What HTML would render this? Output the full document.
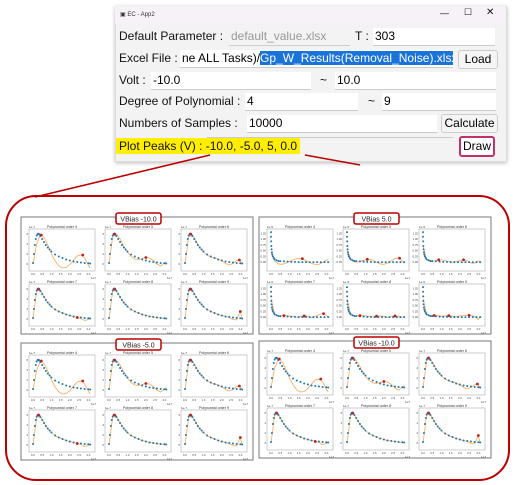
<!DOCTYPE html>
<html><head><meta charset="utf-8">
<style>
body{margin:0;width:515px;height:485px;background:#fff;position:relative;overflow:hidden;font-family:"Liberation Sans",sans-serif}
.a{position:absolute}
.lbl{position:absolute;font-size:12px;color:#111;white-space:nowrap}
.fld{position:absolute;background:#fff;border-bottom:1px solid #ccc;font-size:12px;white-space:nowrap;overflow:hidden;line-height:17px;padding-left:2px}
.btn{position:absolute;background:#f5f5f5;border:1px solid #ccc;border-radius:3px;font-size:12px;text-align:center;line-height:17px}
</style></head><body>
<div class="a" style="left:115px;top:6px;width:390px;height:154px;background:#f3f3f3;border:1px solid #ddd;box-shadow:0 1px 4px #bbb"></div>
<div class="a" style="left:115px;top:6px;width:390px;height:18px;background:#f7f2f7"></div>
<div class="lbl" style="left:120px;top:11px;font-size:6px;color:#333">&#9635; EC - App2</div>
<div class="lbl" style="left:440px;top:8px;font-size:9px">&#8212;</div>
<div class="lbl" style="left:464px;top:7px;font-size:9px">&#9744;</div>
<div class="lbl" style="left:486px;top:7px;font-size:10px">&#10005;</div>

<div class="lbl" style="left:119px;top:29px">Default Parameter :</div>
<div class="fld" style="left:229px;top:28px;width:119px;color:#999;background:#f3f3f3">default_value.xlsx</div>
<div class="lbl" style="left:355px;top:29px">T :</div>
<div class="fld" style="left:373px;top:28px;width:120px">303</div>

<div class="lbl" style="left:119px;top:51px">Excel File :</div>
<div class="fld" style="left:180px;top:50px;width:271px">ne ALL Tasks)/<span style="background:#1a73d9;color:#fff">Gp_W_Results(Removal_Noise).xlsx</span></div>
<div class="btn" style="left:458px;top:50px;width:38px">Load</div>

<div class="lbl" style="left:119px;top:73px">Volt :</div>
<div class="fld" style="left:151px;top:72px;width:158px">-10.0</div>
<div class="lbl" style="left:320px;top:73px">~</div>
<div class="fld" style="left:335px;top:72px;width:159px">10.0</div>

<div class="lbl" style="left:119px;top:94px">Degree of Polynomial :</div>
<div class="fld" style="left:245px;top:93px;width:111px">4</div>
<div class="lbl" style="left:368px;top:94px">~</div>
<div class="fld" style="left:382px;top:93px;width:112px">9</div>

<div class="lbl" style="left:119px;top:116px">Numbers of Samples :</div>
<div class="fld" style="left:247px;top:115px;width:188px">10000</div>
<div class="btn" style="left:441px;top:114px;width:55px">Calculate</div>

<div class="fld" style="left:207px;top:137px;width:244px"></div>
<div class="lbl" style="left:116px;top:138px;background:#ffee00;padding:0 3px 0 3px;line-height:16px">Plot Peaks (V) : -10.0, -5.0, 5, 0.0</div>
<div class="btn" style="left:459px;top:136px;width:32px;border:2px solid #c0306a;background:#fff">Draw</div>

<svg class="a" style="left:0;top:0" width="515" height="485">
<line x1="210" y1="155" x2="35" y2="197" stroke="#b00" stroke-width="1.5"/>
<line x1="305" y1="155" x2="360" y2="165" stroke="#b00" stroke-width="1.5"/>
<rect x="6" y="196" width="503" height="284" rx="30" fill="none" stroke="#b00" stroke-width="2"/>
<g id="plots"></g>
</svg>
<script>
const negX=[0,0.05,0.1,0.15,0.2,0.25,0.3,0.35,0.4,0.5,0.6,0.7,0.8,0.9,1.0,1.2,1.4,1.6,1.8,2.0,2.2,2.4,2.6,2.8,3.0,3.1];
const negY=[0.2,2,3.8,5,5.7,6,6.05,5.9,5.6,5,4.4,3.8,3.3,2.9,2.5,1.9,1.5,1.2,0.9,0.7,0.5,0.4,0.3,0.2,0.15,0.1];
const posX=[0,0,0.01,0.02,0.03,0.05,0.07,0.1,0.15,0.2,0.3,0.4,0.5,0.7,0.9,1.1,1.3,1.5,1.7,1.9,2.1,2.3,2.5,2.7,2.9,3.1];
const posY=[1.3,1.1,0.9,0.7,0.55,0.42,0.33,0.25,0.18,0.12,0.08,0.05,0.04,0.03,0.02,0.01,0.01,0,0,0,0,0,0,0,0,0];
const fitX=[0,0.2,0.4,0.6,0.8,1.0,1.2,1.4,1.6,1.8,2.0,2.2,2.4,2.6,2.8,3.0,3.1];
const negFits=[
[0,4,5.8,5.3,3.8,2.0,0.6,-0.4,-0.8,-0.7,-0.1,0.8,1.6,1.8,1.2,-0.2,-0.8],
[0,5.5,5.9,5.0,3.6,2.4,1.5,1.0,0.9,1.1,1.3,1.2,0.7,0.0,-0.4,0.2,0.5],
[0,5.5,5.8,4.6,3.3,2.4,1.8,1.4,1.2,1.0,0.6,0.1,-0.2,0.1,0.7,0.6,0.2],
[0,5.6,5.7,4.4,3.3,2.5,1.9,1.5,1.2,0.9,0.7,0.5,0.3,0.1,-0.3,-0.1,0.2],
[0,5.6,5.7,4.4,3.3,2.5,1.9,1.5,1.2,0.9,0.7,0.5,0.4,0.3,0.2,0.1,0.1],
[0,5.6,5.7,4.4,3.3,2.5,1.9,1.5,1.2,0.9,0.7,0.5,0.3,-0.1,-0.2,1.5,0]];
const negPeaks=[[[0.45,5.8],[2.7,1.8]],[[0.3,6],[2.0,1.3]],[[0.3,6],[2.95,0.8]],[[0.3,6],[2.4,0.3]],[[0.3,6]],[[0.3,6],[3.0,1.5]]];
const posFits=[
[0.4,0.05,-0.08,-0.1,-0.05,0.03,0.1,0.15,0.15,0.1,0.02,-0.06,-0.1,-0.1,-0.02,0.08,0.12],
[0.6,0.1,0,0,0.05,0.1,0.12,0.08,0,-0.08,-0.1,-0.05,0.05,0.15,0.17,0.05,-0.05],
[0.7,0.1,0.02,0.05,0.08,0.1,0.07,0.02,0,0.02,0.06,0.1,0.06,-0.04,-0.05,0.05,0.02],
[0.8,0.12,0.04,0.06,0.07,0.05,0.02,0,0.03,0.05,0.03,-0.02,0.03,0.1,0.15,0.08,0],
[0.8,0.12,0.04,0.06,0.07,0.05,0.02,0.01,0.03,0.05,0.03,0,0.02,0.05,0.04,0,0.01],
[0.8,0.12,0.06,0.08,0.06,0.04,0.05,0.06,0.04,0.02,0.05,0.07,0.08,0.06,0.03,-0.1,0.02]];
const posPeaks=[[[1.7,0.15]],[[1.1,0.12],[2.85,0.17]],[[0.85,0.1],[2.2,0.1]],[[0.7,0.06],[1.8,0.05],[2.85,0.15]],[[0.7,0.06],[1.6,0.04],[2.6,0.05]],[[0.6,0.07],[1.4,0.06],[2.5,0.08]]];
const panelTitles=["VBias -10.0","VBias 5.0","VBias -5.0","VBias -10.0"];
const negTicks=[0,2,4,6], posTicks=[0,0.25,0.5,0.75,1.0,1.25];
const xTicks=[0,0.5,1,1.5,2,2.5,3];
const NS='http://www.w3.org/2000/svg';
const root=document.getElementById('plots');
function mk(t,a,p){const e=document.createElementNS(NS,t);for(const k in a)e.setAttribute(k,a[k]);(p||root).appendChild(e);return e;}
const panels=[[21,217],[259,217],[21,343],[259,341]];
panels.forEach((pp,pi)=>{
  const pos=pi===1;
  const g=mk('g',{});
  
  
  mk('rect',{x:pp[0],y:pp[1],width:232,height:117,fill:'#fff',stroke:'#777','stroke-width':1},g);
  mk('rect',{x:pp[0]+95,y:pp[1]-4,width:45,height:11,fill:'#fff',stroke:'#b00','stroke-width':1.5,rx:2},g);
  const tt=mk('text',{x:pp[0]+117.5,y:pp[1]+4.5,'font-size':7,'text-anchor':'middle',fill:'#222'},g);
  tt.textContent=panelTitles[pi];
  
  
  const ymin=pos?-0.3:-1, ymax=pos?1.35:6.6;
  for(let k=0;k<6;k++){
    const c=k%3,row=Math.floor(k/3);
    const ax=pp[0]+8+c*76, ay=pp[1]+12+row*55, w=66, h=42;
    const sg=mk('g',{},g);
    
    
    mk('rect',{x:ax,y:ay,width:w,height:h,fill:'#fff',stroke:'#aaa','stroke-width':0.6},sg);
    const st=mk('text',{x:ax+w/2,y:ay-1,'font-size':3.6,'text-anchor':'middle',fill:'#333'},sg);
    st.textContent='Polynomial order '+(k+4);
    const ex=mk('text',{x:ax,y:ay-1,'font-size':3,fill:'#444'},sg);
    ex.textContent=pos?'1e-5':'1e-7';
    const ex2=mk('text',{x:ax+w-4,y:ay+h+8,'font-size':3,fill:'#444'},sg);
    ex2.textContent='1e7';
    const X=v=>ax+4+v/3.2*(w-7), Y=v=>ay+h-2-(v-ymin)/(ymax-ymin)*(h-4);
    xTicks.forEach(t=>{const e=mk('text',{x:X(t),y:ay+h+4,'font-size':2.8,'text-anchor':'middle',fill:'#444'},sg);e.textContent=t.toFixed(1);});
    (pos?posTicks:negTicks).forEach(t=>{const e=mk('text',{x:ax-1,y:Y(t)+1,'font-size':2.8,'text-anchor':'end',fill:'#444'},sg);e.textContent=pos?t.toFixed(2):t;});
    const fy=(pos?posFits:negFits)[k];
    const line=mk('polyline',{points:fitX.map((x,i)=>X(x)+','+Y(Math.max(ymin,Math.min(ymax,fy[i])))).join(' '),fill:'none',stroke:'#ffa64d','stroke-width':0.8},sg);
    
    
    const sx=pos?posX:negX, sy=pos?posY:negY;
    sx.forEach((x,i)=>{const d=mk('circle',{cx:X(x),cy:Y(sy[i]),r:1,fill:'#1f77b4'},sg);
      
      });
    (pos?posPeaks:negPeaks)[k].forEach(p=>{const d=mk('circle',{cx:X(p[0]),cy:Y(p[1]),r:1.4,fill:'#b22'},sg);
      
      });
  }
});
</script>
</body></html>
